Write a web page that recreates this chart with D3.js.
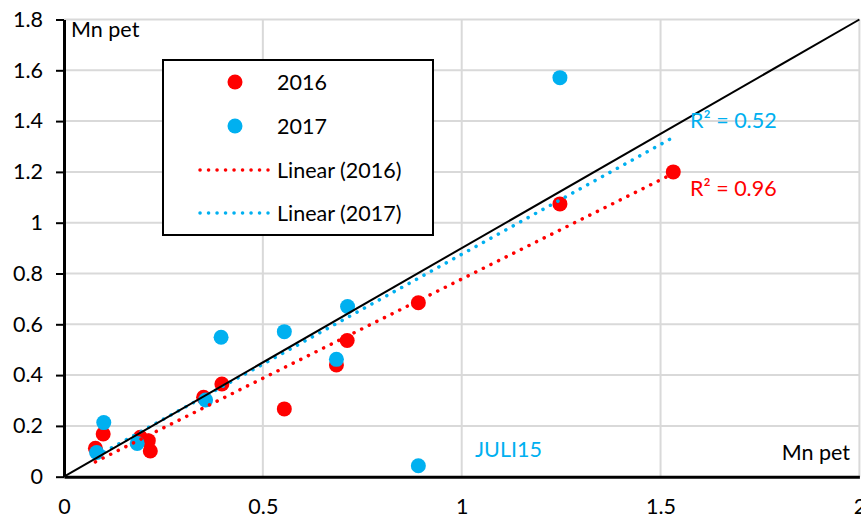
<!DOCTYPE html>
<html>
<head>
<meta charset="utf-8">
<script src="https://cdn.jsdelivr.net/npm/d3@7"></script>
<style>
  html, body { margin: 0; padding: 0; background: #fff; }
  svg { display: block; font-family: Lato, "Liberation Sans", sans-serif; }
</style>
</head>
<body>
<svg id="chart" width="861" height="518"></svg>
<script>
// Measurements, 2016 and 2017 (Mn pet)
const x2016 = [0.079, 0.0985, 0.192, 0.212, 0.217, 0.351, 0.397, 0.554, 0.685, 0.712, 0.891, 1.247, 1.532];
const y2016 = [0.112, 0.168, 0.155, 0.142, 0.101, 0.313, 0.365, 0.267, 0.440, 0.536, 0.685, 1.074, 1.200];
const x2017 = [0.082, 0.100, 0.184, 0.356, 0.395, 0.554, 0.685, 0.713, 0.891, 1.247];
const y2017 = [0.095, 0.213, 0.131, 0.302, 0.549, 0.571, 0.462, 0.670, 0.043, 1.571];

const seriesNames = ["2016", "2017"];
const seriesColors = ["#FF0000", "#00B0F0"];
// forward extension of each linear trendline beyond the last point
const trendForward = [0, 0.28];

// reference line
const refX = [0, 2];
const refY = [0, 1.8];

const xTicks = [0, 0.5, 1, 1.5, 2];
const yTicks = [0, 0.2, 0.4, 0.6, 0.8, 1, 1.2, 1.4, 1.6, 1.8];
const xTickLabels = ["0", "0.5", "1", "1.5", "2"];
const yTickLabels = ["0", "0.2", "0.4", "0.6", "0.8", "1", "1.2", "1.4", "1.6", "1.8"];

const unitLabel = "Mn pet";
const noteLabel = "JULI15";

const svg = d3.select("#chart");
const margin = { left: 64, top: 19.5, right: 1.6, bottom: 41.3 };
const W = 861, H = 518;

const x = d3.scaleLinear().domain([0, 2]).range([margin.left, W - margin.right]);
const y = d3.scaleLinear().domain([0, 1.8]).range([H - margin.bottom, margin.top]);

const FS = 21.5;

// gridlines
const grid = svg.append("g");
grid.selectAll("line.h").data(yTicks.slice(1)).join("line")
  .attr("x1", x(0)).attr("x2", x(2))
  .attr("y1", d => y(d)).attr("y2", d => y(d))
  .attr("stroke", "#d9d9d9").attr("stroke-width", 2);
grid.selectAll("line.v").data(xTicks.slice(1)).join("line")
  .attr("x1", d => x(d)).attr("x2", d => x(d))
  .attr("y1", y(0)).attr("y2", y(1.8))
  .attr("stroke", "#d9d9d9").attr("stroke-width", 2);

// axes
const yAxis = d3.axisLeft(y).tickValues(yTicks)
  .tickFormat((d, i) => yTickLabels[i]).tickSizeOuter(0).tickSizeInner(8).tickPadding(13);
const gy = svg.append("g").attr("transform", `translate(${x(0)},0)`).call(yAxis);
gy.select(".domain").attr("stroke", "#000").attr("stroke-width", 3);
gy.selectAll(".tick line").attr("stroke", "#000").attr("stroke-width", 2);
gy.selectAll(".tick text").attr("font-size", FS).attr("font-family", "Lato").attr("fill", "#000");

const xAxis = d3.axisBottom(x).tickValues(xTicks)
  .tickFormat((d, i) => xTickLabels[i]).tickSize(0).tickPadding(22);
const gx = svg.append("g").attr("transform", `translate(0,${y(0)})`).call(xAxis);
gx.select(".domain").attr("stroke", "#000").attr("stroke-width", 3);
gx.selectAll(".tick text").attr("font-size", FS).attr("font-family", "Lato").attr("fill", "#000");

// scatter points
const series = [
  { xs: x2016, ys: y2016 },
  { xs: x2017, ys: y2017 }
];
series.forEach((s, k) => {
  svg.append("g").selectAll("circle").data(d3.range(s.xs.length)).join("circle")
    .attr("cx", i => x(s.xs[i])).attr("cy", i => y(s.ys[i]))
    .attr("r", 7.5).attr("fill", seriesColors[k]);
});

// least squares fit
function fit(xs, ys) {
  const mx = d3.mean(xs), my = d3.mean(ys);
  let sxy = 0, sxx = 0, syy = 0;
  xs.forEach((v, i) => {
    sxy += (v - mx) * (ys[i] - my);
    sxx += (v - mx) ** 2;
    syy += (ys[i] - my) ** 2;
  });
  const slope = sxy / sxx;
  return { slope, intercept: my - slope * mx, r2: sxy * sxy / (sxx * syy) };
}

const fits = series.map((s, k) => {
  const f = fit(s.xs, s.ys);
  const x0 = d3.min(s.xs), x1 = d3.max(s.xs) + trendForward[k];
  svg.append("line")
    .attr("x1", x(x0)).attr("y1", y(f.intercept + f.slope * x0))
    .attr("x2", x(x1)).attr("y2", y(f.intercept + f.slope * x1))
    .attr("stroke", seriesColors[k]).attr("stroke-width", 3.5)
    .attr("stroke-linecap", "round").attr("stroke-dasharray", "0.1 8.4");
  return f;
});

// reference line
svg.append("line")
  .attr("x1", x(refX[0])).attr("y1", y(refY[0]))
  .attr("x2", x(refX[1])).attr("y2", y(refY[1]))
  .attr("stroke", "#000").attr("stroke-width", 2);

// R² labels
const fmt = d3.format(".2f");
svg.append("text").attr("x", 690).attr("y", 128)
  .attr("font-size", FS).attr("fill", seriesColors[1])
  .text(`R² = ${fmt(fits[1].r2)}`);
svg.append("text").attr("x", 690).attr("y", 196)
  .attr("font-size", FS).attr("fill", seriesColors[0])
  .text(`R² = ${fmt(fits[0].r2)}`);

// unit labels and note
svg.append("text").attr("x", 71).attr("y", 37).attr("font-size", FS).attr("fill", "#000").text(unitLabel);
svg.append("text").attr("x", 850).attr("y", 460).attr("text-anchor", "end")
  .attr("font-size", FS).attr("fill", "#000").text(unitLabel);
svg.append("text").attr("x", 475).attr("y", 457).attr("font-size", FS)
  .attr("fill", seriesColors[1]).text(noteLabel);

// legend
const lg = svg.append("g");
lg.append("rect").attr("x", 163).attr("y", 60).attr("width", 270).attr("height", 175)
  .attr("fill", "#fff").attr("stroke", "#000").attr("stroke-width", 2);
const rowY = [82, 126, 170, 213];
seriesNames.forEach((name, k) => {
  lg.append("circle").attr("cx", 235).attr("cy", rowY[k]).attr("r", 7.5).attr("fill", seriesColors[k]);
  lg.append("text").attr("x", 277).attr("y", rowY[k]).attr("dy", "0.35em")
    .attr("font-size", FS).attr("fill", "#000").text(name);
  lg.append("line").attr("x1", 200).attr("x2", 268).attr("y1", rowY[k + 2]).attr("y2", rowY[k + 2])
    .attr("stroke", seriesColors[k]).attr("stroke-width", 3.5)
    .attr("stroke-linecap", "round").attr("stroke-dasharray", "0.1 8.4");
  lg.append("text").attr("x", 277).attr("y", rowY[k + 2]).attr("dy", "0.35em")
    .attr("font-size", FS).attr("fill", "#000").text(`Linear (${name})`);
});
</script>
</body>
</html>
